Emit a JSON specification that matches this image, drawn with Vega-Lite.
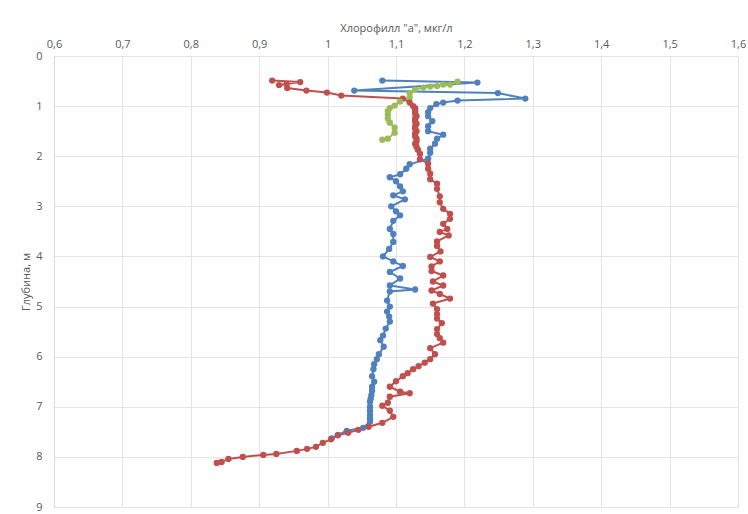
{
  "$schema": "https://vega.github.io/schema/vega-lite/v6.json",
  "autosize": {"type": "none"},
  "width": 684,
  "height": 451,
  "padding": {"left": 54, "top": 56, "right": 10, "bottom": 7},
  "background": "white",
  "config": {
    "font": "Open Sans",
    "view": {"stroke": null},
    "axis": {"labelColor": "#595959", "titleColor": "#595959", "labelFontSize": 11, "titleFontSize": 11, "titleFontWeight": "normal", "gridColor": "#e4e4e4", "domainColor": "#d9d9d9", "tickSize": 0}
  },
  "datasets": {
    "pts": [
      {"s":"red","i":1,"x":0.919,"d":0.49},{"s":"red","i":2,"x":0.96,"d":0.52},{"s":"red","i":3,"x":0.929,"d":0.58},{"s":"red","i":4,"x":0.94,"d":0.56},{"s":"red","i":5,"x":0.941,"d":0.64},{"s":"red","i":6,"x":0.969,"d":0.69},{"s":"red","i":7,"x":0.999,"d":0.73},{"s":"red","i":8,"x":1.02,"d":0.79},{"s":"red","i":9,"x":1.11,"d":0.85},{"s":"red","i":10,"x":1.12,"d":0.93},
      {"s":"red","i":11,"x":1.125,"d":1.0},{"s":"red","i":11.5,"x":1.128,"d":1.04},{"s":"red","i":12,"x":1.128,"d":1.07},{"s":"red","i":12.5,"x":1.128,"d":1.11},{"s":"red","i":13,"x":1.128,"d":1.15},{"s":"red","i":13.5,"x":1.13,"d":1.2},{"s":"red","i":14,"x":1.128,"d":1.25},{"s":"red","i":14.5,"x":1.128,"d":1.3},{"s":"red","i":15,"x":1.13,"d":1.35},{"s":"red","i":15.5,"x":1.128,"d":1.4},{"s":"red","i":16,"x":1.128,"d":1.45},{"s":"red","i":16.5,"x":1.13,"d":1.5},{"s":"red","i":17,"x":1.128,"d":1.55},{"s":"red","i":17.5,"x":1.128,"d":1.6},{"s":"red","i":18,"x":1.13,"d":1.65},{"s":"red","i":18.5,"x":1.13,"d":1.7},{"s":"red","i":19,"x":1.128,"d":1.75},{"s":"red","i":19.5,"x":1.13,"d":1.81},{"s":"red","i":20,"x":1.132,"d":1.87},
      {"s":"red","i":21,"x":1.135,"d":1.95},{"s":"red","i":22,"x":1.135,"d":2.06},{"s":"red","i":23,"x":1.147,"d":2.15},{"s":"red","i":24,"x":1.147,"d":2.25},{"s":"red","i":25,"x":1.15,"d":2.35},{"s":"red","i":26,"x":1.15,"d":2.46},{"s":"red","i":27,"x":1.16,"d":2.55},{"s":"red","i":28,"x":1.16,"d":2.65},{"s":"red","i":29,"x":1.164,"d":2.8},{"s":"red","i":30,"x":1.164,"d":2.92},
      {"s":"red","i":31,"x":1.169,"d":3.05},{"s":"red","i":32,"x":1.179,"d":3.15},{"s":"red","i":33,"x":1.179,"d":3.25},{"s":"red","i":34,"x":1.169,"d":3.35},{"s":"red","i":35,"x":1.175,"d":3.45},{"s":"red","i":36,"x":1.164,"d":3.51},{"s":"red","i":37,"x":1.177,"d":3.58},{"s":"red","i":38,"x":1.16,"d":3.7},{"s":"red","i":39,"x":1.16,"d":3.79},{"s":"red","i":40,"x":1.165,"d":3.9},
      {"s":"red","i":41,"x":1.15,"d":4.01},{"s":"red","i":42,"x":1.164,"d":4.1},{"s":"red","i":43,"x":1.152,"d":4.2},{"s":"red","i":44,"x":1.152,"d":4.29},{"s":"red","i":45,"x":1.169,"d":4.38},{"s":"red","i":46,"x":1.154,"d":4.5},{"s":"red","i":47,"x":1.169,"d":4.58},{"s":"red","i":48,"x":1.152,"d":4.68},{"s":"red","i":49,"x":1.164,"d":4.75},{"s":"red","i":50,"x":1.179,"d":4.84},
      {"s":"red","i":51,"x":1.154,"d":4.94},{"s":"red","i":52,"x":1.16,"d":5.05},{"s":"red","i":53,"x":1.16,"d":5.15},{"s":"red","i":54,"x":1.16,"d":5.24},{"s":"red","i":55,"x":1.167,"d":5.33},{"s":"red","i":56,"x":1.16,"d":5.45},{"s":"red","i":57,"x":1.16,"d":5.55},{"s":"red","i":58,"x":1.164,"d":5.63},{"s":"red","i":59,"x":1.169,"d":5.72},{"s":"red","i":60,"x":1.15,"d":5.83},
      {"s":"red","i":61,"x":1.157,"d":5.95},{"s":"red","i":62,"x":1.15,"d":6.05},{"s":"red","i":63,"x":1.142,"d":6.12},{"s":"red","i":64,"x":1.133,"d":6.19},{"s":"red","i":65,"x":1.125,"d":6.25},{"s":"red","i":66,"x":1.117,"d":6.33},{"s":"red","i":67,"x":1.11,"d":6.39},{"s":"red","i":68,"x":1.1,"d":6.49},{"s":"red","i":69,"x":1.091,"d":6.6},{"s":"red","i":70,"x":1.106,"d":6.7},
      {"s":"red","i":71,"x":1.12,"d":6.73},{"s":"red","i":72,"x":1.091,"d":6.8},{"s":"red","i":73,"x":1.088,"d":6.92},{"s":"red","i":74,"x":1.08,"d":6.98},{"s":"red","i":75,"x":1.091,"d":7.08},{"s":"red","i":76,"x":1.096,"d":7.2},{"s":"red","i":77,"x":1.08,"d":7.32},{"s":"red","i":78,"x":1.06,"d":7.4},{"s":"red","i":79,"x":1.045,"d":7.46},{"s":"red","i":80,"x":1.03,"d":7.52},
      {"s":"red","i":81,"x":1.015,"d":7.57},{"s":"red","i":82,"x":1.005,"d":7.65},{"s":"red","i":83,"x":0.993,"d":7.72},{"s":"red","i":84,"x":0.983,"d":7.8},{"s":"red","i":85,"x":0.97,"d":7.84},{"s":"red","i":86,"x":0.955,"d":7.88},{"s":"red","i":87,"x":0.925,"d":7.94},{"s":"red","i":88,"x":0.906,"d":7.96},{"s":"red","i":89,"x":0.876,"d":8.0},{"s":"red","i":90,"x":0.855,"d":8.04},{"s":"red","i":91,"x":0.845,"d":8.1},{"s":"red","i":92,"x":0.838,"d":8.12},

      {"s":"blue","i":1,"x":1.08,"d":0.49},{"s":"blue","i":2,"x":1.219,"d":0.53},{"s":"blue","i":3,"x":1.039,"d":0.69},{"s":"blue","i":4,"x":1.249,"d":0.74},{"s":"blue","i":5,"x":1.289,"d":0.85},{"s":"blue","i":6,"x":1.19,"d":0.89},{"s":"blue","i":7,"x":1.169,"d":0.93},{"s":"blue","i":8,"x":1.159,"d":0.96},{"s":"blue","i":9,"x":1.15,"d":1.04},{"s":"blue","i":10,"x":1.147,"d":1.12},
      {"s":"blue","i":11,"x":1.147,"d":1.2},{"s":"blue","i":12,"x":1.153,"d":1.3},{"s":"blue","i":13,"x":1.147,"d":1.4},{"s":"blue","i":14,"x":1.147,"d":1.5},{"s":"blue","i":15,"x":1.169,"d":1.57},{"s":"blue","i":16,"x":1.16,"d":1.65},{"s":"blue","i":17,"x":1.157,"d":1.75},{"s":"blue","i":18,"x":1.15,"d":1.85},{"s":"blue","i":19,"x":1.15,"d":1.93},{"s":"blue","i":20,"x":1.147,"d":2.05},
      {"s":"blue","i":21,"x":1.12,"d":2.16},{"s":"blue","i":22,"x":1.115,"d":2.25},{"s":"blue","i":23,"x":1.106,"d":2.36},{"s":"blue","i":24,"x":1.091,"d":2.42},{"s":"blue","i":25,"x":1.1,"d":2.5},{"s":"blue","i":26,"x":1.106,"d":2.6},{"s":"blue","i":27,"x":1.11,"d":2.7},{"s":"blue","i":28,"x":1.096,"d":2.78},{"s":"blue","i":29,"x":1.113,"d":2.86},{"s":"blue","i":30,"x":1.093,"d":3.0},
      {"s":"blue","i":31,"x":1.1,"d":3.1},{"s":"blue","i":32,"x":1.106,"d":3.18},{"s":"blue","i":33,"x":1.096,"d":3.29},{"s":"blue","i":34,"x":1.091,"d":3.45},{"s":"blue","i":35,"x":1.096,"d":3.55},{"s":"blue","i":36,"x":1.096,"d":3.71},{"s":"blue","i":37,"x":1.09,"d":3.85},{"s":"blue","i":38,"x":1.081,"d":4.0},{"s":"blue","i":39,"x":1.096,"d":4.1},{"s":"blue","i":40,"x":1.11,"d":4.19},
      {"s":"blue","i":41,"x":1.091,"d":4.31},{"s":"blue","i":42,"x":1.106,"d":4.44},{"s":"blue","i":43,"x":1.091,"d":4.58},{"s":"blue","i":44,"x":1.128,"d":4.66},{"s":"blue","i":45,"x":1.091,"d":4.7},{"s":"blue","i":46,"x":1.087,"d":4.88},{"s":"blue","i":47,"x":1.091,"d":5.0},{"s":"blue","i":48,"x":1.087,"d":5.1},{"s":"blue","i":49,"x":1.09,"d":5.2},{"s":"blue","i":50,"x":1.091,"d":5.3},
      {"s":"blue","i":51,"x":1.085,"d":5.44},{"s":"blue","i":52,"x":1.081,"d":5.58},{"s":"blue","i":53,"x":1.077,"d":5.67},{"s":"blue","i":54,"x":1.082,"d":5.8},{"s":"blue","i":55,"x":1.075,"d":5.95},{"s":"blue","i":56,"x":1.072,"d":6.05},{"s":"blue","i":57,"x":1.068,"d":6.15},{"s":"blue","i":58,"x":1.067,"d":6.25},{"s":"blue","i":59,"x":1.065,"d":6.39},{"s":"blue","i":60,"x":1.068,"d":6.5},
      {"s":"blue","i":61,"x":1.065,"d":6.6},{"s":"blue","i":61.5,"x":1.065,"d":6.68},{"s":"blue","i":62,"x":1.064,"d":6.77},{"s":"blue","i":62.5,"x":1.063,"d":6.84},{"s":"blue","i":63,"x":1.062,"d":6.9},{"s":"blue","i":64,"x":1.062,"d":7.0},{"s":"blue","i":64.5,"x":1.062,"d":7.08},{"s":"blue","i":65,"x":1.062,"d":7.16},{"s":"blue","i":65.5,"x":1.062,"d":7.23},{"s":"blue","i":66,"x":1.062,"d":7.3},{"s":"blue","i":67,"x":1.052,"d":7.42},{"s":"blue","i":68,"x":1.028,"d":7.48},{"s":"blue","i":69,"x":1.015,"d":7.56},{"s":"blue","i":70,"x":1.006,"d":7.63},

      {"s":"green","i":1,"x":1.19,"d":0.51},{"s":"green","i":2,"x":1.179,"d":0.57},{"s":"green","i":3,"x":1.169,"d":0.57},{"s":"green","i":4,"x":1.16,"d":0.6},{"s":"green","i":5,"x":1.15,"d":0.61},{"s":"green","i":6,"x":1.14,"d":0.63},{"s":"green","i":7,"x":1.128,"d":0.67},{"s":"green","i":8,"x":1.12,"d":0.74},{"s":"green","i":9,"x":1.12,"d":0.83},{"s":"green","i":10,"x":1.106,"d":0.91},
      {"s":"green","i":11,"x":1.098,"d":0.99},{"s":"green","i":12,"x":1.091,"d":1.04},{"s":"green","i":12.5,"x":1.088,"d":1.1},{"s":"green","i":13,"x":1.088,"d":1.17},{"s":"green","i":13.5,"x":1.088,"d":1.25},{"s":"green","i":14,"x":1.091,"d":1.33},{"s":"green","i":15,"x":1.098,"d":1.43},{"s":"green","i":16,"x":1.098,"d":1.53},{"s":"green","i":17,"x":1.088,"d":1.65},{"s":"green","i":18,"x":1.08,"d":1.67}
    ]
  },
  "data": {"name": "pts"},
  "encoding": {
    "x": {"field": "x", "type": "quantitative", "scale": {"domain": [0.6, 1.6], "nice": false, "zero": false},
      "axis": {"orient": "top", "title": "Хлорофилл \"а\", мкг/л", "values": [0.6,0.7,0.8,0.9,1,1.1,1.2,1.3,1.4,1.5,1.6], "labelExpr": "replace(toString(round(datum.value*10)/10), '.', ',')", "labelPadding": 7, "titlePadding": 5, "domain": false, "labelFlush": false}},
    "y": {"field": "d", "type": "quantitative", "scale": {"domain": [0, 9], "reverse": true, "nice": false},
      "axis": {"title": "Глубина, м", "values": [0,1,2,3,4,5,6,7,8,9], "labelPadding": 12, "titlePadding": 4, "domain": true}},
    "color": {"field": "s", "type": "nominal", "scale": {"domain": ["blue", "red", "green"], "range": ["#4F81BD", "#C0504D", "#9BBB59"]}, "legend": null},
    "order": {"field": "i", "type": "quantitative"}
  },
  "layer": [
    {"mark": {"type": "line", "strokeWidth": 2}},
    {"mark": {"type": "point", "filled": true, "opacity": 1, "size": 40}}
  ]
}
